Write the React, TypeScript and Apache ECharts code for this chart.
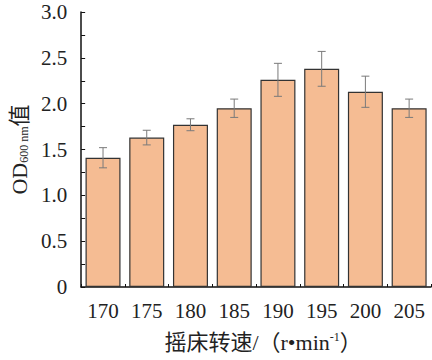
import React, { useEffect, useRef } from "react";
import * as echarts from "echarts";

const categories = ["170", "175", "180", "185", "190", "195", "200", "205"];
const values = [1.41, 1.63, 1.77, 1.95, 2.26, 2.38, 2.13, 1.95];
const errors = [0.11, 0.08, 0.065, 0.1, 0.18, 0.19, 0.17, 0.1];

const FONT = "Liberation Serif, DejaVu Serif, Noto Sans CJK SC, serif";

export default function App() {
  const ref = useRef<HTMLDivElement>(null);
  useEffect(() => {
    document.body.style.margin = "0";
    const chart = echarts.init(ref.current!, null, { renderer: "svg" });
    const errData = values.map((v, i) => [i, v - errors[i], v + errors[i]]);
    chart.setOption({
      animation: false,
      backgroundColor: "#ffffff",
      textStyle: { fontFamily: FONT },
      grid: { left: 78, right: 1, top: 12, bottom: 73 },
      xAxis: [
        {
          type: "category",
          data: categories,
          boundaryGap: true,
          axisLine: { show: true, lineStyle: { color: "#111", width: 1.5 } },
          axisTick: { show: true, inside: true, length: 3, alignWithLabel: false, lineStyle: { color: "#111", width: 1 } },
          axisLabel: { fontFamily: FONT, fontSize: 21, color: "#222", margin: 13 },
          name: "摇床转速/（r•min{sup|-1}）",
          nameLocation: "middle",
          nameGap: 66,
          nameTextStyle: {
            fontFamily: FONT,
            fontSize: 22,
            color: "#222",
            verticalAlign: "bottom",
            padding: [5, 0, 0, 14],
            rich: {
              sup: { fontFamily: FONT, fontSize: 12, verticalAlign: "top", color: "#222" },
            },
          },
        },
        {
          type: "category",
          data: categories,
          position: "bottom",
          boundaryGap: true,
          axisLine: { show: false },
          axisTick: { show: true, inside: true, length: 4, alignWithLabel: true, lineStyle: { color: "#111", width: 1 } },
          axisLabel: { show: false },
        },
      ],
      yAxis: {
        type: "value",
        min: 0,
        max: 3,
        interval: 0.5,
        axisLine: { show: true, lineStyle: { color: "#111", width: 1.5 } },
        axisTick: { show: true, inside: true, length: 4, lineStyle: { color: "#111", width: 1 } },
        minorTick: { show: true, splitNumber: 2, length: 4, lineStyle: { color: "#111", width: 1 } },
        splitLine: { show: false },
        axisLabel: {
          fontFamily: FONT,
          fontSize: 21,
          color: "#222",
          margin: 14,
          formatter: (v: number) => (v === 0 ? "0" : v.toFixed(1)),
        },
        name: "OD{sub|600 nm}值",
        nameLocation: "middle",
        nameGap: 48,
        nameTextStyle: {
          fontFamily: FONT,
          fontSize: 22,
          color: "#222",
          verticalAlign: "top",
          padding: [0, 0, 5, 0],
          rich: {
            sub: { fontFamily: FONT, fontSize: 12, verticalAlign: "bottom", color: "#222" },
          },
        },
      },
      series: [
        {
          type: "bar",
          data: values,
          barWidth: 35,
          itemStyle: { color: "#F5BC93", borderColor: "#333", borderWidth: 1.2 },
        },
        {
          type: "custom",
          data: errData,
          z: 10,
          renderItem: (params: any, api: any) => {
            const x = api.value(0);
            const lo = api.coord([x, api.value(1)]);
            const hi = api.coord([x, api.value(2)]);
            const cap = 4;
            const style = { stroke: "#7a7a7a", lineWidth: 1 };
            return {
              type: "group",
              children: [
                { type: "line", shape: { x1: hi[0], y1: hi[1], x2: lo[0], y2: lo[1] }, style },
                { type: "line", shape: { x1: hi[0] - cap, y1: hi[1], x2: hi[0] + cap, y2: hi[1] }, style },
                { type: "line", shape: { x1: lo[0] - cap, y1: lo[1], x2: lo[0] + cap, y2: lo[1] }, style },
              ],
            };
          },
        },
      ],
    });
    return () => chart.dispose();
  }, []);
  return <div ref={ref} style={{ width: 432, height: 360 }} />;
}
